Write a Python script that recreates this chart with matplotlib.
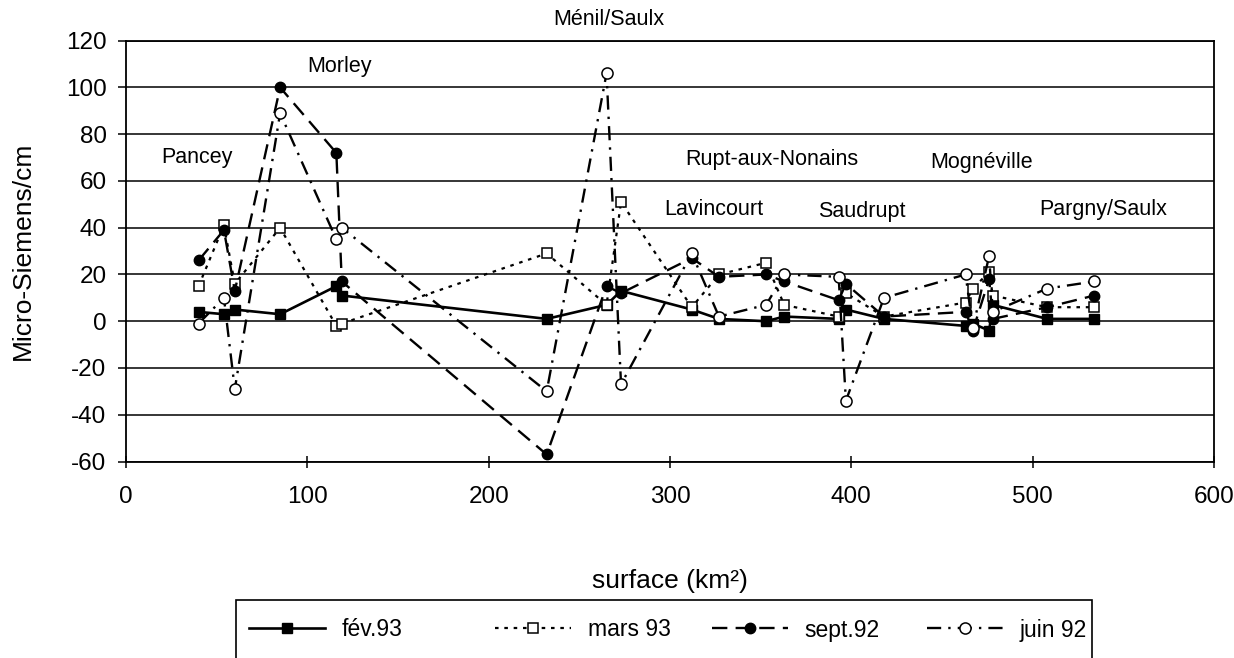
import matplotlib
matplotlib.use("Agg")
import matplotlib.pyplot as plt
from matplotlib.patches import Rectangle

plt.rcParams["font.family"] = ["Liberation Sans", "DejaVu Sans"]
plt.rcParams["axes.unicode_minus"] = False

# surface of each sampling station (km2)
surface = [40, 54, 60, 85, 116, 119, 232, 265, 273, 312, 327,
           353, 363, 393, 397, 418, 463, 467, 476, 478, 508, 534]

# conductivity differences (Micro-Siemens/cm)
fev93 = [4, 3, 5, 3, 15, 11, 1, 7, 13, 5, 1,
         0, 2, 1, 5, 1, -2, -1, -4, 7, 1, 1]
mars93 = [15, 41, 16, 40, -2, -1, 29, 7, 51, 6, 20,
          25, 7, 2, 12, 2, 8, 14, 21, 11, 6, 6]
sept92 = [26, 39, 13, 100, 72, 17, -57, 15, 12, 27, 19,
          20, 17, 9, 16, 2, 4, -4, 18, 1, 6, 11]
juin92 = [-1, 10, -29, 89, 35, 40, -30, 106, -27, 29, 2,
          7, 20, 19, -34, 10, 20, -3, 28, 4, 14, 17]

# station names and where they are written (surface, value)
sites = ["Pancey", "Morley", "Ménil/Saulx", "Rupt-aux-Nonains", "Lavincourt",
         "Saudrupt", "Mognéville", "Pargny/Saulx"]
site_x = [39, 118, 266, 356, 324, 406, 472, 539]
site_y = [70, 109, 129, 69, 48, 47, 68, 48]

W, H = 1234, 658
fig = plt.figure(figsize=(W / 100, H / 100), dpi=100)
ax = fig.add_axes([126 / W, 1 - 461.5 / H, 1088 / W, 420.8 / H])

l_fev, = ax.plot(surface, fev93, color="black", lw=1.9, marker="s", ms=7,
                 mfc="black", mec="black", label="fév.93")
l_mars, = ax.plot(surface, mars93, color="black", lw=1.6, marker="s", ms=7.5,
                  mfc="white", mec="black", mew=1.1, label="mars 93")
l_mars.set_dashes((1.6, 2.6))
l_sept, = ax.plot(surface, sept92, color="black", lw=1.7, marker="o", ms=7.5,
                  mfc="black", mec="black", label="sept.92")
l_sept.set_dashes((6.5, 3.5))
l_juin, = ax.plot(surface, juin92, color="black", lw=1.7, marker="o", ms=8,
                  mfc="white", mec="black", mew=1.1, label="juin 92")
l_juin.set_dashes((6, 3, 1, 3))

for name, sx, sy in zip(sites, site_x, site_y):
    ax.text(sx, sy, name, ha="center", va="center", fontsize=15.5,
            clip_on=False)

ax.set_xlim(0, 600)
ax.set_ylim(-60, 120)
ax.set_xticks(range(0, 601, 100))
ax.set_yticks(range(-60, 121, 20))
ax.yaxis.grid(True, color="black", lw=1.1)
ax.set_axisbelow(True)
for s in ax.spines.values():
    s.set_linewidth(1.3)
ax.tick_params(axis="x", direction="inout", length=9, width=1.1,
               labelsize=17.5, pad=13)
ax.tick_params(axis="y", direction="out", length=6, width=1.1,
               labelsize=17.5, pad=8)
ax.set_xlabel("surface (km²)", fontsize=19, labelpad=44)
ax.set_ylabel("Micro-Siemens/cm", fontsize=19, labelpad=22)

# legend frame: starts below the axis title and runs past the bottom edge
fig.patches.append(Rectangle((236 / W, -0.05), 856 / W, 0.05 + 58 / H,
                             transform=fig.transFigure, facecolor="white",
                             edgecolor="black", linewidth=1.2))
# one evenly spaced slot per series
for line, x0 in zip([l_fev, l_mars, l_sept, l_juin], [249, 495, 712, 927]):
    fig.legend(handles=[line], loc="center left",
               bbox_to_anchor=(x0 / W, 1 - 630 / H),
               fontsize=16.5, handlelength=3.3, handletextpad=0.75,
               borderpad=0, borderaxespad=0, frameon=False)

fig.savefig("out.png", dpi=100)
